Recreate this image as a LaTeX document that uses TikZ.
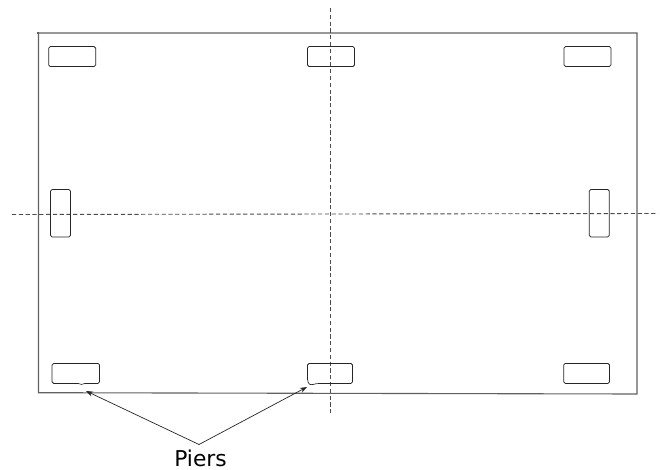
\documentclass[tikz,border=0pt]{standalone}
\usepackage{fontspec}
\setmainfont{DejaVu Sans}
\usetikzlibrary{arrows.meta}
\begin{document}
\begin{tikzpicture}[x=1pt,y=-1pt,
  outline/.style={draw=black!62,line width=1.1pt},
  axisline/.style={draw=black!70,line width=0.9pt,dash pattern=on 4.2pt off 2.6pt},
  pierh/.style={draw=black!85,line width=0.75pt,rounded corners=1.6pt,inner sep=0pt,minimum width=47pt,minimum height=20pt},
  pierv/.style={draw=black!85,line width=0.75pt,rounded corners=1.6pt,inner sep=0pt,minimum width=20pt,minimum height=47.5pt},
  leader/.style={draw=black!85,line width=0.7pt,-{Stealth[length=7pt,width=5pt]}},
  label/.style={inner sep=0pt,font=\fontsize{21.8pt}{24pt}\selectfont}]
\useasboundingbox (0,0) rectangle (660,470);
\fill[white] (0,0) rectangle (660,470);
% slab
\coordinate (sTO) at (37,33);
\coordinate (sTL) at (38.5,33);
\coordinate (sTR) at (637,33);
\coordinate (sBR) at (637,394);
\coordinate (sBL) at (38.5,392.7);
\draw[outline] (sTL) -- (sTR) -- (sBR) -- (sBL) -- cycle;
\draw[outline] (sTO) -- (sTL);
% axes
\coordinate (vTop) at (330,8);
\coordinate (vBot) at (330,415);
\coordinate (hLeft) at (12,214.5);
\coordinate (hRight) at (658,213.5);
\draw[axisline] (vTop) -- (vBot);
\draw[axisline] (hLeft) -- (hRight);
% piers
\node[pierh] (p1) at (72.2,56.6) {};
\node[pierh] (p2) at (331,56.6) {};
\node[pierh] (p3) at (587.5,56.5) {};
\node[pierv] (p4) at (60.5,213.2) {};
\node[pierv] (p5) at (599.3,213.2) {};
\node[pierh,minimum width=47.5pt] (p6) at (75.8,373.4) {};
\node[pierh,minimum width=45pt] (p7) at (330,373.4) {};
\node[pierh,minimum width=45.8pt] (p8) at (586.6,373.4) {};
% small irregularities on the lower edges
\draw[white,line width=1.2pt] (78,383.4) -- (85,383.4);
\draw[black!85,line width=0.6pt] (78,383.4) .. controls (80,384.8) and (83,384.8) .. (85,383.4);
\draw[white,line width=1.3pt] (308,380) -- (308,383.5) -- (320,383.5);
\draw[black!85,line width=0.7pt] (307.7,380) .. controls (308,384) and (310,385.2) .. (313,384.5) .. controls (315,383.8) and (317,383.4) .. (320,383.5);
% label and leaders
\node[label] (piers) at (200.5,458) {Piers};
\coordinate (apex) at (199,444.5);
\coordinate (t1) at (86,391);
\coordinate (t2) at (307,387);
\draw[leader] (apex) -- (t1);
\draw[leader] (apex) -- (t2);
\end{tikzpicture}
\end{document}
